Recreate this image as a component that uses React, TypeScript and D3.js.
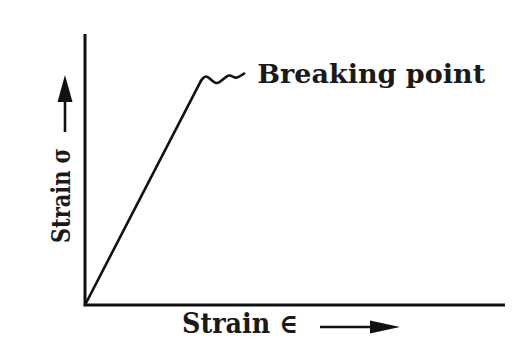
import React from "react";
import * as d3 from "d3";

// Stress–strain curve: straight elastic rise, then a wavy stretch up to the break.
const curveStrain = [0, 27.6];
const curveStress = [0, 82.7];
const wiggleStrain = [27.6, 28.8, 31.4, 34.3, 36.0, 37.9];
const wiggleStress = [82.7, 84.3, 81.9, 84.7, 83.9, 85.4];
const axisLabels = ["Strain \u2208", "Strain \u03c3"];
const noteLabels = ["Breaking point"];

const W = 526;
const H = 344;
const FONT = "'DejaVu Serif', 'Liberation Serif', serif";

export default function App() {
  const x = d3.scaleLinear().domain([0, 100]).range([85, 505]);
  const y = d3.scaleLinear().domain([0, 100]).range([305, 34]);

  const linePts: [number, number][] = curveStrain.map((s, i) => [x(s), y(curveStress[i])]);
  const wigglePts: [number, number][] = wiggleStrain.map((s, i) => [x(s), y(wiggleStress[i])]);

  const straight = d3.line()(linePts) || "";
  const wiggle = d3.line().curve(d3.curveCatmullRom.alpha(0.5))(wigglePts) || "";

  const [x0, x1] = x.range();
  const [y0, y1] = y.range();
  const axesPath = `M${x0},${y1}L${x0},${y0}L${x1},${y0}`;

  const last = wigglePts[wigglePts.length - 1];

  return (
    <svg
      width={W}
      height={H}
      viewBox={`0 0 ${W} ${H}`}
      style={{ position: "absolute", left: 0, top: 0, background: "#ffffff" }}
    >
      {/* axes */}
      <path d={axesPath} fill="none" stroke="#111" strokeWidth={3} strokeLinejoin="miter" />

      {/* elastic line and wavy segment */}
      <path d={straight} fill="none" stroke="#111" strokeWidth={2.6} strokeLinecap="round" />
      <path d={wiggle} fill="none" stroke="#111" strokeWidth={2.6} strokeLinecap="round" strokeLinejoin="round" />

      {/* breaking point note */}
      <text
        x={last[0] + 13}
        y={83}
        fontFamily={FONT}
        fontWeight="bold"
        fontSize={26}
        fill="#1a1a1a"
        textLength={228}
        lengthAdjust="spacingAndGlyphs"
      >
        {noteLabels[0]}
      </text>

      {/* x label with arrow */}
      <text
        x={182}
        y={333}
        fontFamily={FONT}
        fontWeight="bold"
        fontSize={27}
        fill="#1a1a1a"
        textLength={116}
        lengthAdjust="spacingAndGlyphs"
      >
        {axisLabels[0]}
      </text>
      <line x1={320} y1={327} x2={375} y2={327} stroke="#111" strokeWidth={2.6} />
      <path d="M370,320.5L400,327L370,333.5Z" fill="#111" />

      {/* y label with arrow */}
      <text
        transform="translate(70,243) rotate(-90)"
        fontFamily={FONT}
        fontWeight="bold"
        fontSize={26}
        fill="#1a1a1a"
        textLength={95}
        lengthAdjust="spacingAndGlyphs"
      >
        {axisLabels[1]}
      </text>
      <line x1={65} y1={132} x2={65} y2={98} stroke="#111" strokeWidth={2.6} />
      <path d="M57.5,102L65,75L72.5,102Z" fill="#111" />
    </svg>
  );
}
